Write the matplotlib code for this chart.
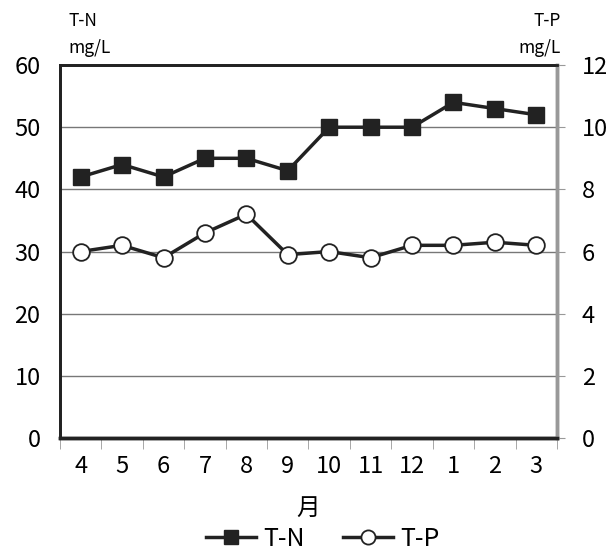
import matplotlib
matplotlib.use('Agg')
import matplotlib.pyplot as plt
import numpy as np

months = ['4', '5', '6', '7', '8', '9', '10', '11', '12', '1', '2', '3']
tn = [42, 44, 42, 45, 45, 43, 50, 50, 50, 54, 53, 52]
tp = [6.0, 6.2, 5.8, 6.6, 7.2, 5.9, 6.0, 5.8, 6.2, 6.2, 6.3, 6.2]
left_ticks = [0, 10, 20, 30, 40, 50, 60]
right_ticks = [0, 2, 4, 6, 8, 10, 12]

plt.rcParams['font.family'] = ['Noto Sans CJK JP', 'DejaVu Sans']

fig = plt.figure(figsize=(6.09, 5.56), dpi=100)
ax = fig.add_axes([0.0985, 0.2122, 0.8161, 0.6708])
ax2 = ax.twinx()

x = np.arange(len(months))

# grid lines
for v in left_ticks[1:-1]:
    ax.axhline(v, color='#777777', lw=1.0, zorder=1)

l1, = ax.plot(x, tn, color='#222222', lw=2.5, marker='s', ms=12,
              mfc='#222222', mec='#222222', zorder=5, label='T-N')
l2, = ax2.plot(x, tp, color='#222222', lw=2.5, marker='o', ms=12,
               mfc='white', mec='#222222', mew=1.3, zorder=5, label='T-P')

ax.set_xlim(-0.5, len(months) - 0.5)
ax.set_ylim(0, 60)
ax2.set_ylim(0, 12)

ax.set_yticks(left_ticks)
ax.set_yticklabels([str(v) for v in left_ticks], fontsize=17)
ax.tick_params(axis='y', length=0, pad=14)
ax2.set_yticks(right_ticks)
ax2.set_yticklabels([str(v) for v in right_ticks], fontsize=17)
ax2.tick_params(axis='y', direction='out', length=6, color='#999999', pad=12)

ax.set_xticks(x)
ax.set_xticklabels(months, fontsize=17)
ax.tick_params(axis='x', length=0, pad=12)
ax.set_xticks(np.arange(-0.5, len(months), 1), minor=True)
ax.tick_params(axis='x', which='minor', length=8, color='#999999', direction='out')

for a in (ax, ax2):
    a.spines['left'].set_color('#222222')
    a.spines['left'].set_linewidth(2)
    a.spines['bottom'].set_color('#222222')
    a.spines['bottom'].set_linewidth(2.5)
    a.spines['top'].set_color('#222222')
    a.spines['top'].set_linewidth(2)
    a.spines['right'].set_color('#999999')
    a.spines['right'].set_linewidth(2.5)

ax.set_xlabel('月', fontsize=17, labelpad=14)

fig.text(0.112, 0.963, 'T-N', fontsize=12.5, va='center', ha='left')
fig.text(0.112, 0.913, 'mg/L', fontsize=12.5, va='center', ha='left')
fig.text(0.921, 0.963, 'T-P', fontsize=12.5, va='center', ha='right')
fig.text(0.921, 0.913, 'mg/L', fontsize=12.5, va='center', ha='right')

fig.legend(handles=[l1, l2], loc='center', bbox_to_anchor=(0.53, 0.031), ncol=2,
           frameon=False, fontsize=18, handlelength=2.0, handletextpad=0.3,
           columnspacing=1.5, markerscale=0.85)

fig.savefig('out.png', dpi=100)
